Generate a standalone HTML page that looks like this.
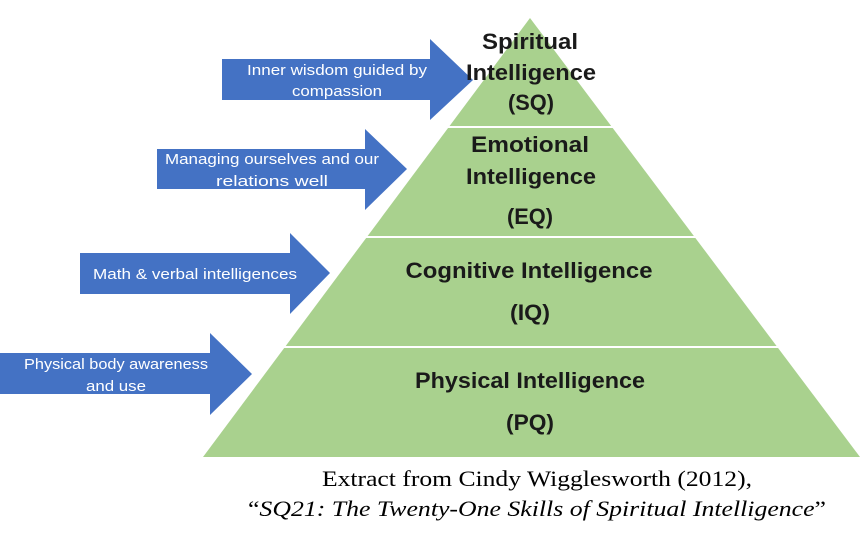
<!DOCTYPE html>
<html><head><meta charset="utf-8"><style>
body{margin:0;background:#fff;width:866px;height:546px;overflow:hidden}
</style></head><body>
<svg width="866" height="546" viewBox="0 0 866 546" xmlns="http://www.w3.org/2000/svg">
<polygon points="530,18 860,457 203,457" fill="#a9d18e"/>
<g stroke="#fff" stroke-width="2">
<line x1="400" y1="127" x2="670" y2="127"/>
<line x1="300" y1="237" x2="760" y2="237"/>
<line x1="250" y1="347" x2="820" y2="347"/>
</g>
<g fill="#4472c4">
<polygon points="222,59 430,59 430,39 473,80 430,120 430,100 222,100"/>
<polygon points="157,149 365,149 365,129 407,169 365,210 365,189 157,189"/>
<polygon points="80,253 290,253 290,233 330,273 290,314 290,294 80,294"/>
<polygon points="0,353 210,353 210,333 252,374 210,415 210,394 0,394"/>
</g>
<g font-family="Liberation Sans, sans-serif" font-size="15" fill="#fff" text-anchor="middle" lengthAdjust="spacingAndGlyphs">
<text x="337" y="75" textLength="180" lengthAdjust="spacingAndGlyphs">Inner wisdom guided by</text>
<text x="337" y="96" textLength="90" lengthAdjust="spacingAndGlyphs">compassion</text>
<text x="272" y="164" textLength="214" lengthAdjust="spacingAndGlyphs">Managing ourselves and our</text>
<text x="272" y="186" textLength="112" lengthAdjust="spacingAndGlyphs">relations well</text>
<text x="195" y="279" textLength="204" lengthAdjust="spacingAndGlyphs">Math &amp; verbal intelligences</text>
<text x="116" y="369" textLength="184" lengthAdjust="spacingAndGlyphs">Physical body awareness</text>
<text x="116" y="391" textLength="60" lengthAdjust="spacingAndGlyphs">and use</text>
</g>
<g font-family="Liberation Sans, sans-serif" font-size="22" font-weight="bold" fill="#1a1a1a" text-anchor="middle">
<text x="530" y="49" textLength="96" lengthAdjust="spacingAndGlyphs">Spiritual</text>
<text x="531" y="80" textLength="130" lengthAdjust="spacingAndGlyphs">Intelligence</text>
<text x="531" y="110" textLength="46" lengthAdjust="spacingAndGlyphs">(SQ)</text>
<text x="530" y="152" textLength="118" lengthAdjust="spacingAndGlyphs">Emotional</text>
<text x="531" y="184" textLength="130" lengthAdjust="spacingAndGlyphs">Intelligence</text>
<text x="530" y="224" textLength="46" lengthAdjust="spacingAndGlyphs">(EQ)</text>
<text x="529" y="278" textLength="247" lengthAdjust="spacingAndGlyphs">Cognitive Intelligence</text>
<text x="530" y="320" textLength="40" lengthAdjust="spacingAndGlyphs">(IQ)</text>
<text x="530" y="388" textLength="230" lengthAdjust="spacingAndGlyphs">Physical Intelligence</text>
<text x="530" y="430" textLength="48" lengthAdjust="spacingAndGlyphs">(PQ)</text>
</g>
<g font-family="Liberation Serif, serif" font-size="22" fill="#000" text-anchor="middle">
<text x="537" y="486" textLength="430" lengthAdjust="spacingAndGlyphs">Extract from Cindy Wigglesworth (2012),</text>
<text x="537" y="516" textLength="578" lengthAdjust="spacingAndGlyphs">“<tspan font-style="italic">SQ21: The Twenty-One Skills of Spiritual Intelligence</tspan>”</text>
</g>
</svg>
</body></html>
